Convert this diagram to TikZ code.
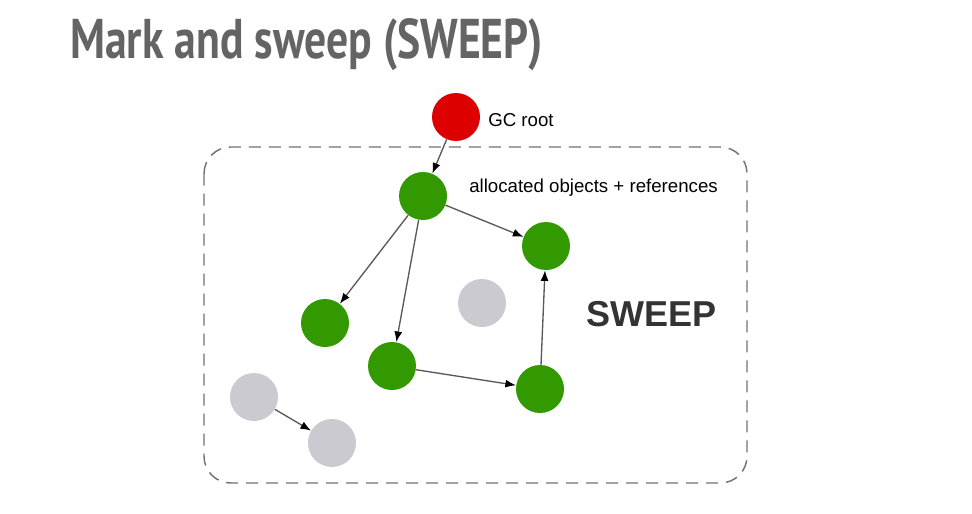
\documentclass[tikz,border=0pt]{standalone}
\usepackage{fontspec}
\setmainfont{Liberation Sans}
\newfontfamily\titlefont[FakeStretch=0.78]{PT Sans}
\usetikzlibrary{calc,arrows.meta,positioning}
\definecolor{objgreen}{RGB}{51,153,0}
\definecolor{rootred}{RGB}{221,0,0}
\definecolor{deadgray}{RGB}{202,202,208}
\definecolor{titlegray}{RGB}{100,100,100}
\definecolor{sweepgray}{RGB}{51,51,51}

\begin{document}
\begin{tikzpicture}[x=0.75pt,y=-0.75pt,{obj/.style={circle,fill=objgreen,minimum size=36pt,inner sep=0pt}},{root/.style={circle,fill=rootred,minimum size=36pt,inner sep=0pt}},{dead/.style={circle,fill=deadgray,minimum size=36pt,inner sep=0pt}},{ref/.style={color=black!65,line width=1pt,-{Latex[length=8pt,width=6pt,color=black]}}}]
	%%page
	\fill[white] (0,0) rectangle (972,514);
	\useasboundingbox (0,0) rectangle (972,514);
	%%title
	\node[anchor=base west,inner sep=0pt,text=titlegray,font=\titlefont\bfseries\fontsize{42}{48}\selectfont] (title) at (70,58) {Mark and sweep (SWEEP)};
	%%heap region
	\coordinate (HL) at (204,147);
	\coordinate (HR) at (747,483);
	\draw[color=black!55,line width=1.1pt,dash pattern=on 9pt off 6pt,rounded corners=20pt] (HL) rectangle (HR);
	%%objects
	\node[root] (gcroot) at (456,117) {};
	\node[obj] (objA) at (423,196) {};
	\node[obj] (objB) at (546,246) {};
	\node[obj] (objC) at (325,323) {};
	\node[obj] (objD) at (392,366) {};
	\node[obj] (objE) at (540,389) {};
	\node[dead] (deadF) at (482,303) {};
	\node[dead] (deadG) at (254,397) {};
	\node[dead] (deadH) at (332,443) {};
	%%references
	\draw[ref] (gcroot) -- (objA);
	\draw[ref] (objA) -- (objB);
	\draw[ref] (objA) -- (objC);
	\draw[ref] (objA) -- (objD);
	\draw[ref] (objD) -- (objE);
	\draw[ref] (objE) -- (objB);
	\draw[ref] (deadG) -- (deadH);
	%%labels
	\node[anchor=base west,inner sep=0pt,font=\fontsize{14}{16}\selectfont] (rootlabel) at (488,126) {GC root};
	\node[anchor=base west,inner sep=0pt,font=\fontsize{14}{16}\selectfont] (objlabel) at (469,192) {allocated objects + references};
	\node[anchor=base west,inner sep=0pt,text=sweepgray,font=\bfseries\fontsize{27}{30}\selectfont] (sweep) at (586,326) {SWEEP};
\end{tikzpicture}
\end{document}
